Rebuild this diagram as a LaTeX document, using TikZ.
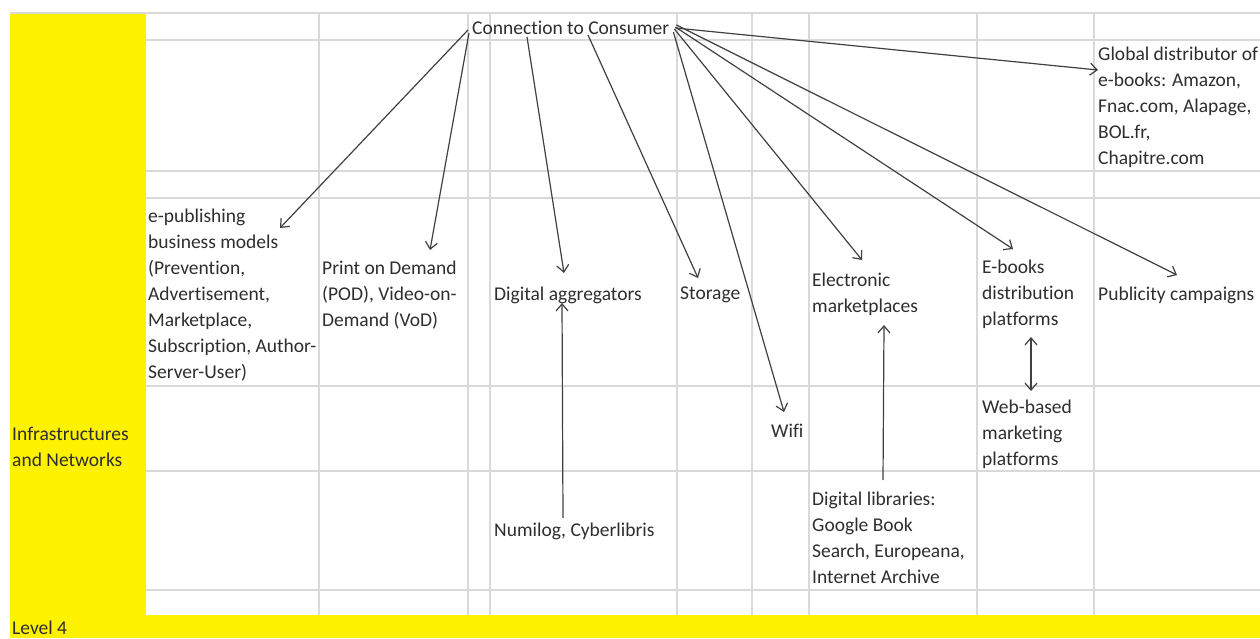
\documentclass[tikz,border=0pt]{standalone}
\usepackage{fontspec}
\setmainfont{Carlito}[Ligatures=NoCommon]
\usetikzlibrary{calc}
\usetikzlibrary{arrows.meta}

\tikzset{
  cell/.style={anchor=north west, align=left, inner sep=0pt, text=black!82, font=\fontsize{19.5}{26}\selectfont},
  oneline/.style={anchor=west, inner sep=0pt, text=black!82, font=\fontsize{19.5}{26}\selectfont},
  link/.style={-{Straight Barb[length=7pt,width=12pt]}, line width=1.2pt, black!75},
  gridline/.style={gray!30, line width=1.2pt},
}

\begin{document}
\begin{tikzpicture}[x=1pt,y=-1pt]
\useasboundingbox (0,0) rectangle (1260,638);

\fill[yellow] (10,13) rectangle (146,638);
\fill[yellow] (10,615) rectangle (1260,638);

\draw[gridline] (10,13) -- (1260,13);
\foreach \y in {40,171,198,386,471,590} \draw[gridline] (146,\y) -- (1260,\y);
\foreach \x in {319,468,490,677,752,809,977,1094} \draw[gridline] (\x,13) -- (\x,615);

% texts
\node[oneline] (con) at (472,28) {Connection to Consumer};
\node[cell] (glob) at (1098,47) {Global distributor of\\e-books: Amazon,\\Fnac.com, Alapage,\\BOL.fr,\\Chapitre.com};
\node[cell] (epub) at (148,209) {e-publishing\\business models\\(Prevention,\\Advertisement,\\Marketplace,\\Subscription, Author-\\Server-User)};
\node[cell] (pod) at (322,261) {Print on Demand\\(POD), Video-on-\\Demand (VoD)};
\node[oneline] (agg) at (494,295) {Digital aggregators};
\node[oneline] (stor) at (680,295) {Storage};
\node[cell] (elec) at (812,273) {Electronic\\marketplaces};
\node[cell] (ebook) at (982,260) {E-books\\distribution\\platforms};
\node[oneline] (pub) at (1098,295) {Publicity campaigns};
\node[oneline] (wifi) at (771,431) {Wifi};
\node[cell] (infra) at (12,427) {Infrastructures\\and Networks};
\node[cell] (web) at (982,400) {Web-based\\marketing\\platforms};
\node[oneline] (numi) at (494,531) {Numilog, Cyberlibris};
\node[cell] (dlib) at (812,492) {Digital libraries:\\Google Book\\Search, Europeana,\\Internet Archive};
\node[oneline] (lvl) at (12,628) {Level 4};

% arrows
\draw[link] ($(con.south west)+(-4,-5)$) -- ($(epub.north west)+(132,19)$);
\draw[link] ($(con.south west)+(-3,-2)$) -- ($(pod.north west)+(108,-11)$);
\draw[link] ($(con.south west)+(55,2)$) -- ($(agg.west)+(70,-22)$);
\draw[link] ($(con.south west)+(116,0)$) -- ($(stor.west)+(18,-17)$);
\draw[link] ($(con.south east)+(4,-3)$) -- ($(wifi.west)+(13,-19)$);
\draw[link] ($(con.south east)+(5,-6)$) -- ($(elec.north west)+(50,-13)$);
\draw[link] ($(con.south east)+(6,-8)$) -- ($(ebook.north west)+(31,-11)$);
\draw[link] ($(con.south east)+(7,-10)$) -- ($(pub.west)+(79,-20)$);
\draw[link] ($(con.east)+(6,0)$) -- ($(glob.north west)+(0,23)$);
\draw[link] ($(numi.west)+(69,-13)$) -- ($(agg.west)+(68,8)$);
\draw[link] ($(dlib.north west)+(71,-12)$) -- ($(elec.north west)+(72,52)$);
\draw[link, {Straight Barb[length=7pt,width=12pt]}-{Straight Barb[length=7pt,width=12pt]}] ($(ebook.north west)+(49,77)$) -- ($(web.north west)+(49,-9)$);
\end{tikzpicture}
\end{document}
